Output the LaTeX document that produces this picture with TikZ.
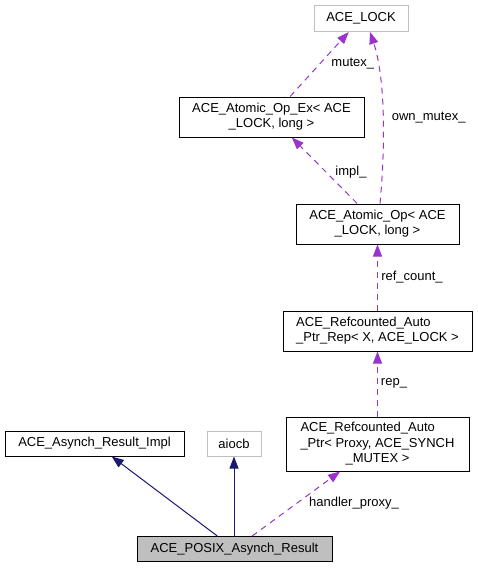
\documentclass[tikz,border=0pt]{standalone}
\usepackage{fontspec}
\setmainfont{Liberation Sans}
\usetikzlibrary{arrows.meta,calc}
\definecolor{navyedge}{HTML}{191970}
\definecolor{purpedge}{HTML}{9A32CD}
\definecolor{graybd}{HTML}{BFBFBF}
\tikzset{
  cls/.style={draw=black, line width=1pt, inner sep=0pt, font=\fontsize{13}{15.7}\selectfont},
  ext/.style={draw=graybd, line width=1pt, inner sep=0pt, font=\fontsize{13}{15.7}\selectfont},
  inh/.style={draw=navyedge, line width=1pt, -{Triangle[length=12pt,width=9pt]}},
  use/.style={draw=purpedge, line width=1pt, dash pattern=on 6pt off 5pt, -{Triangle[length=12pt,width=9pt]}},
  elab/.style={font=\fontsize{13}{15.7}\selectfont, inner sep=0pt}
}
\newcommand{\twol}[2]{\begin{tabular}{@{}l@{}}#1\\\multicolumn{1}{@{}c@{}}{#2}\end{tabular}}
\newcommand{\threel}[3]{\begin{tabular}{@{}l@{}}#1\\#2\\\multicolumn{1}{@{}c@{}}{#3}\end{tabular}}
\begin{document}
\begin{tikzpicture}[x=1pt,y=-1pt]
\useasboundingbox (0,0) rectangle (477,568);
\node[ext, minimum width=94pt, minimum height=26pt] (lock) at (361,18.5) {ACE\_LOCK};
\node[cls, minimum width=185pt, minimum height=40pt] (atomex) at (271.5,117) {\twol{ACE\_Atomic\_Op\_Ex< ACE}{\_LOCK, long >}};
\node[cls, minimum width=163pt, minimum height=40pt] (atom) at (377.5,224) {\twol{ACE\_Atomic\_Op< ACE}{\_LOCK, long >}};
\node[cls, minimum width=189pt, minimum height=40pt] (rep) at (377.5,331) {\twol{ACE\_Refcounted\_Auto}{\_Ptr\_Rep< X, ACE\_LOCK >}};
\node[cls, minimum width=183pt, minimum height=54pt] (ptr) at (377.5,444) {\threel{ACE\_Refcounted\_Auto}{\_Ptr< Proxy, ACE\_SYNCH}{\_MUTEX >}};
\node[cls, minimum width=179pt, minimum height=25pt] (impl) at (94.5,443.5) {ACE\_Asynch\_Result\_Impl};
\node[ext, minimum width=54pt, minimum height=25pt] (aiocb) at (234,443.5) {aiocb};
\node[cls, fill=graybd, minimum width=195pt, minimum height=25pt] (posix) at (234.5,549) {ACE\_POSIX\_Asynch\_Result};

\draw[inh] (posix) -- (impl);
\draw[inh] (posix.north -| aiocb.south) -- (aiocb.south);
\draw[use] (posix) -- (ptr);
\draw[use] (ptr) -- (rep);
\draw[use] (rep) -- (atom);
\draw[use] (atom) -- (atomex);
\draw[use] (atomex) -- (lock);
\draw[use] ($(atom.north)+(2.5,0)$) .. controls (385,150) and (386,80) .. ($(lock.south)+(9,0)$);

\node[elab] (l1) at (352.8,63.3) {mutex\_};
\node[elab] (l2) at (428.7,117.3) {own\_mutex\_};
\node[elab] (l3) at (351,171.7) {impl\_};
\node[elab] (l4) at (412,276.7) {ref\_count\_};
\node[elab] (l5) at (394,383.3) {rep\_};
\node[elab] (l6) at (354,502.7) {handler\_proxy\_};
\end{tikzpicture}
\end{document}
